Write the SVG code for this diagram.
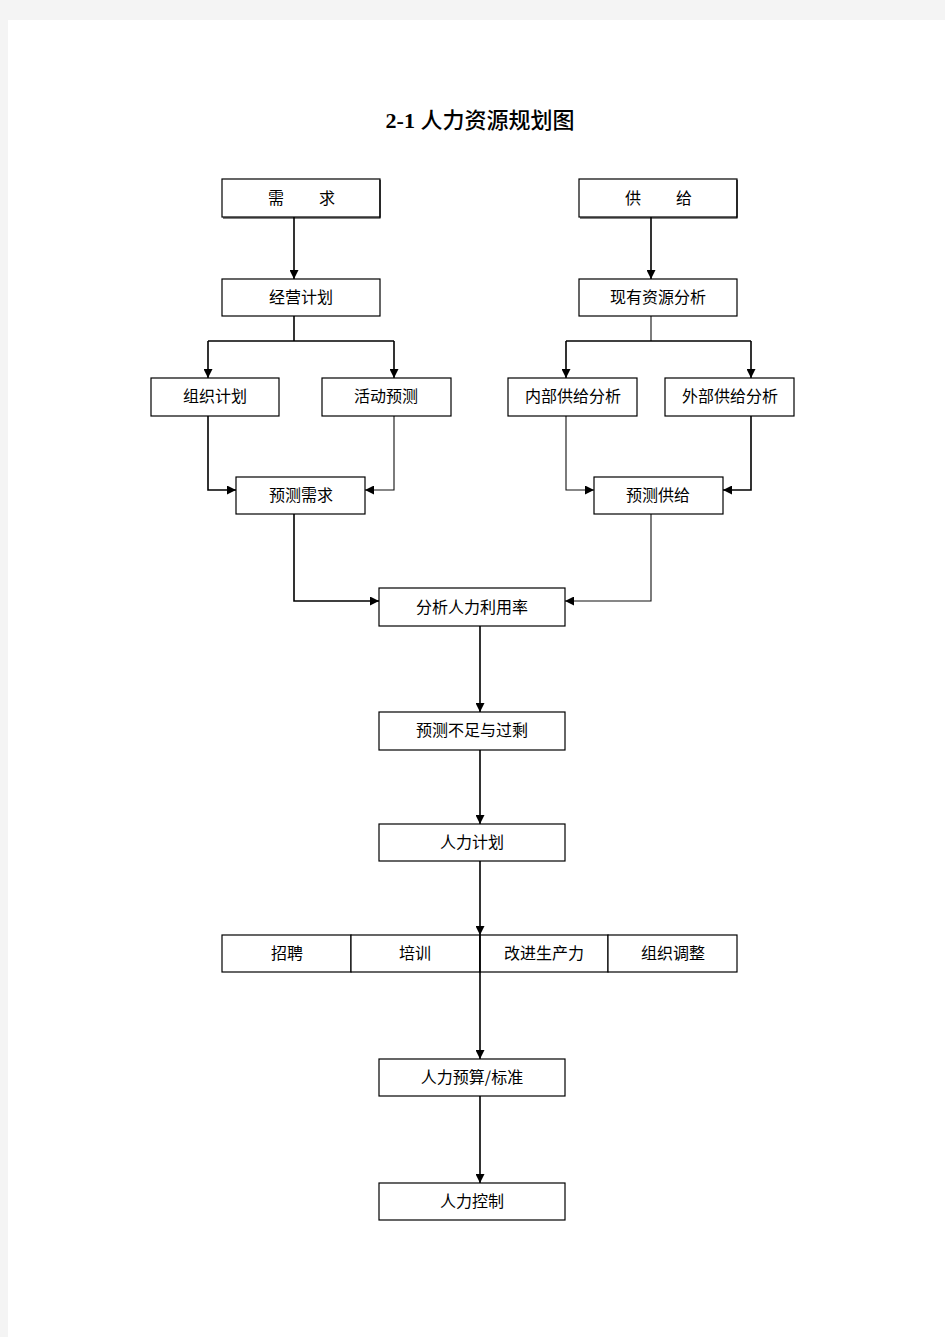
<svg xmlns="http://www.w3.org/2000/svg" width="945" height="1337" viewBox="0 0 945 1337">
<style>
.bx{fill:#fff;stroke:#000;stroke-width:1.2}
.sh{fill:none;stroke:#000;stroke-width:1.2}
.lb{font-family:"Noto Sans CJK SC","Liberation Sans",sans-serif;font-size:16px;fill:#000;text-anchor:middle}
.ln{fill:none;stroke:#000;stroke-width:1.6}
.lt{fill:none;stroke:#111;stroke-width:1.1}
</style>
<defs>
<marker id="ah" viewBox="0 0 10 10" refX="10" refY="5" markerWidth="9" markerHeight="9" markerUnits="userSpaceOnUse" orient="auto">
<path d="M0,0 L10,5 L0,10 z" fill="#000"/>
</marker>
</defs>
<rect x="0" y="0" width="945" height="1337" fill="#f4f4f4"/>
<rect x="8" y="20" width="937" height="1317" fill="#fff"/>
<text x="480" y="128" text-anchor="middle" font-family="'Liberation Serif','Noto Sans CJK SC',serif" font-size="22" font-weight="bold" fill="#000">2-1 <tspan font-weight="500">人力资源规划图</tspan></text>

<g id="connectors">
<path class="ln" d="M294,217 V279" marker-end="url(#ah)"/>
<path class="ln" d="M651,217 V279" marker-end="url(#ah)"/>
<path class="ln" d="M294,316 V341"/>
<path class="ln" d="M208,341 H394"/>
<path class="ln" d="M208,341 V378" marker-end="url(#ah)"/>
<path class="ln" d="M394,341 V378" marker-end="url(#ah)"/>
<path class="lt" d="M651,316 V341"/>
<path class="ln" d="M566,341 H751"/>
<path class="ln" d="M566,341 V378" marker-end="url(#ah)"/>
<path class="ln" d="M751,341 V378" marker-end="url(#ah)"/>
<path class="ln" d="M208,416 V490 H236" marker-end="url(#ah)"/>
<path class="lt" d="M394,416 V490 H365" marker-end="url(#ah)"/>
<path class="lt" d="M566,416 V490 H594" marker-end="url(#ah)"/>
<path class="ln" d="M751,416 V490 H723" marker-end="url(#ah)"/>
<path class="ln" d="M294,514 V601 H379" marker-end="url(#ah)"/>
<path class="lt" d="M651,514 V601 H565" marker-end="url(#ah)"/>
<path class="ln" d="M480,626 V712" marker-end="url(#ah)"/>
<path class="ln" d="M480,750 V824" marker-end="url(#ah)"/>
<path class="ln" d="M480,861 V935" marker-end="url(#ah)"/>
<path class="ln" d="M480,935 V1059" marker-end="url(#ah)"/>
<path class="ln" d="M480,1096 V1183" marker-end="url(#ah)"/>
</g>

<g id="n-xuqiu"><rect class="bx" x="222" y="179" width="158" height="38"/><path class="sh" d="M380,180 V218 H223"/><text class="lb" y="204"><tspan x="276">需</tspan><tspan x="327">求</tspan></text></g>
<g id="n-gongji"><rect class="bx" x="579" y="179" width="158" height="38"/><path class="sh" d="M737,180 V218 H580"/><text class="lb" y="204"><tspan x="633">供</tspan><tspan x="684">给</tspan></text></g>
<g id="n-jingying"><rect class="bx" x="222" y="279" width="158" height="37"/><text class="lb" x="301" y="303">经营计划</text></g>
<g id="n-xianyou"><rect class="bx" x="579" y="279" width="158" height="37"/><text class="lb" x="658" y="303">现有资源分析</text></g>
<g id="n-zuzhi"><rect class="bx" x="151" y="378" width="128" height="38"/><text class="lb" x="215" y="402">组织计划</text></g>
<g id="n-huodong"><rect class="bx" x="322" y="378" width="129" height="38"/><text class="lb" x="386" y="402">活动预测</text></g>
<g id="n-neibu"><rect class="bx" x="508" y="378" width="129" height="38"/><text class="lb" x="573" y="402">内部供给分析</text></g>
<g id="n-waibu"><rect class="bx" x="665" y="378" width="129" height="38"/><text class="lb" x="730" y="402">外部供给分析</text></g>
<g id="n-ycxq"><rect class="bx" x="236" y="477" width="129" height="37"/><text class="lb" x="301" y="501">预测需求</text></g>
<g id="n-ycgj"><rect class="bx" x="594" y="477" width="129" height="37"/><text class="lb" x="658" y="501">预测供给</text></g>
<g id="n-fenxi"><rect class="bx" x="379" y="588" width="186" height="38" stroke-width="1.8"/><text class="lb" x="472" y="613">分析人力利用率</text></g>
<g id="n-buzu"><rect class="bx" x="379" y="712" width="186" height="38"/><text class="lb" x="472" y="736">预测不足与过剩</text></g>
<g id="n-jihua"><rect class="bx" x="379" y="824" width="186" height="37"/><text class="lb" x="472" y="848">人力计划</text></g>
<g id="n-zhaopin"><rect class="bx" x="222" y="935" width="129" height="37"/><text class="lb" x="287" y="959">招聘</text></g>
<g id="n-peixun"><rect class="bx" x="351" y="935" width="129" height="37"/><text class="lb" x="415" y="959">培训</text></g>
<g id="n-gaijin"><rect class="bx" x="480" y="935" width="128" height="37"/><text class="lb" x="544" y="959">改进生产力</text></g>
<g id="n-tiaozheng"><rect class="bx" x="608" y="935" width="129" height="37"/><text class="lb" x="673" y="959">组织调整</text></g>
<path class="ln" d="M480,935 V972"/>
<g id="n-yusuan"><rect class="bx" x="379" y="1059" width="186" height="37"/><text class="lb" x="472" y="1083">人力预算/标准</text></g>
<g id="n-kongzhi"><rect class="bx" x="379" y="1183" width="186" height="37"/><text class="lb" x="472" y="1207">人力控制</text></g>
</svg>
